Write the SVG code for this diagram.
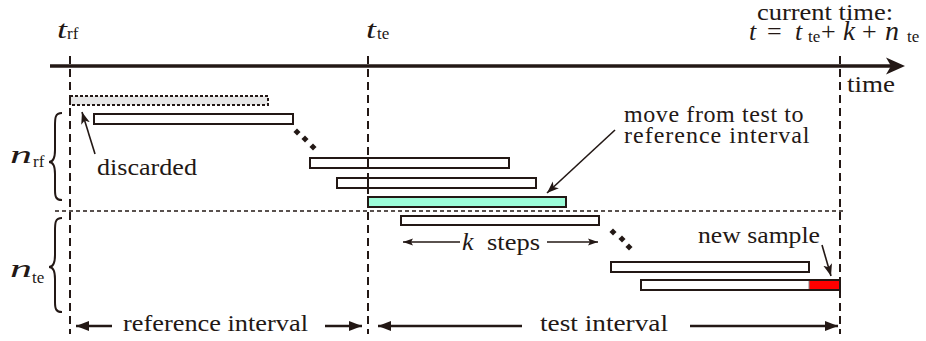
<svg xmlns="http://www.w3.org/2000/svg" width="926" height="341" viewBox="0 0 926 341" font-family="Liberation Serif, Times New Roman, serif">
<style>
text,tspan{font-family:'Liberation Serif','Times New Roman',serif}
.t{font-size:24px;font-style:normal;fill:#231815}
.m{font-style:italic;font-size:26px;fill:#231815}
.s{font-style:normal;font-size:17px;fill:#231815}
.o{font-style:normal;font-size:26px;fill:#231815}
.bar{fill:#fff;stroke:#231815;stroke-width:2}
.dash{stroke:#231815;stroke-width:2;stroke-dasharray:8 5;fill:none}
.ln{stroke:#231815;fill:none}
.dot{fill:#231815}
</style>
<defs>
<marker id="big" markerUnits="userSpaceOnUse" markerWidth="14" markerHeight="12" viewBox="0 0 14 12" refX="13" refY="6" orient="auto">
<path d="M0,1 L13,6 L0,11 Z" fill="#231815"/>
</marker>
<marker id="small" markerUnits="userSpaceOnUse" markerWidth="11" markerHeight="8" viewBox="0 0 11 8" refX="10" refY="4" orient="auto">
<path d="M0,0.5 L10,4 L0,7.5 L2,4 Z" fill="#231815"/>
</marker>
<marker id="lead" markerUnits="userSpaceOnUse" markerWidth="13" markerHeight="10" viewBox="0 0 13 10" refX="12" refY="5" orient="auto">
<path d="M0,0.5 L12,5 L0,9.5 L3,5 Z" fill="#231815"/>
</marker>
</defs>

<g id="axis">
<line class="ln" x1="50" y1="66" x2="892" y2="66" stroke-width="3.5"/>
<path d="M905,66 L886,57.5 L891,66 L886,74.5 Z" fill="#231815"/>
<text class="t" x="847" y="92" textLength="48" lengthAdjust="spacingAndGlyphs">time</text>
</g>

<g id="separator">
<line class="ln" x1="55" y1="211" x2="843" y2="211" stroke-width="1.6" stroke-dasharray="4 3"/>
</g>

<g id="bars-reference">
<rect id="bar-discarded" x="70" y="96" width="198" height="9" fill="#e6e6e6" stroke="#231815" stroke-width="2" stroke-dasharray="3 2"/>
<rect id="bar-1" class="bar" x="94" y="114" width="199" height="10"/>
<g id="dots-1">
<rect class="dot" x="294.5" y="129.5" width="5" height="5" transform="rotate(45 297 132)"/>
<rect class="dot" x="302.5" y="136.5" width="5" height="5" transform="rotate(45 305 139)"/>
<rect class="dot" x="310.5" y="144.5" width="5" height="5" transform="rotate(45 313 147)"/>
</g>
<g id="bar-2"><rect class="bar" x="310" y="158" width="199" height="10"/><line class="ln" x1="368" y1="158" x2="368" y2="168" stroke-width="2"/></g>
<g id="bar-3"><rect class="bar" x="337" y="178" width="199" height="10"/><line class="ln" x1="368" y1="178" x2="368" y2="188" stroke-width="2"/></g>
<rect id="bar-moved" x="368" y="197" width="198" height="10" fill="#9cfcd8" stroke="#231815" stroke-width="2"/>
</g>

<g id="bars-test">
<rect id="bar-4" class="bar" x="401" y="216" width="198" height="9"/>
<g id="dots-2">
<rect class="dot" x="610.5" y="229.5" width="5" height="5" transform="rotate(45 613 232)"/>
<rect class="dot" x="619.5" y="236.5" width="5" height="5" transform="rotate(45 622 239)"/>
<rect class="dot" x="626.5" y="244.5" width="5" height="5" transform="rotate(45 629 247)"/>
</g>
<rect id="bar-5" class="bar" x="611" y="262" width="198" height="10"/>
<g id="bar-6">
<rect x="641" y="280" width="199" height="10" fill="#fff"/>
<rect x="809" y="280" width="31" height="10" fill="#ff0000"/>
<rect x="641" y="280" width="199" height="10" fill="none" stroke="#231815" stroke-width="2"/>
<line x1="809" y1="281" x2="809" y2="289" stroke="#888" stroke-width="1"/>
</g>
</g>

<g id="labels">
<g id="label-trf"><text class="m" x="57" y="38" textLength="10" lengthAdjust="spacingAndGlyphs">t</text><text class="s" x="67" y="39">rf</text></g>
<g id="label-tte"><text class="m" x="366" y="38" textLength="10" lengthAdjust="spacingAndGlyphs">t</text><text class="s" x="377" y="39">te</text></g>
<text id="label-current-a" class="t" x="757" y="20" font-size="20" textLength="136" lengthAdjust="spacingAndGlyphs">current time:</text>
<text id="label-current-b" class="m"><tspan x="749" y="40">t</tspan><tspan class="o" x="767" y="40">=</tspan><tspan x="795" y="40">t</tspan><tspan class="s" x="808" y="42">te</tspan><tspan class="o" x="821" y="40">+</tspan><tspan x="843" y="40" font-size="27">k</tspan><tspan class="o" x="862" y="40">+</tspan><tspan x="885" y="40" font-size="28">n</tspan><tspan class="s" x="907" y="42">te</tspan></text>
<g id="label-nrf"><text class="m" x="10" y="163" font-size="27" textLength="22" lengthAdjust="spacingAndGlyphs">n</text><text class="s" x="33" y="167">rf</text></g>
<g id="label-nte"><text class="m" x="10" y="277" font-size="27" textLength="22" lengthAdjust="spacingAndGlyphs">n</text><text class="s" x="32" y="283">te</text></g>
<text id="label-discarded" class="t" x="97" y="175" textLength="100" lengthAdjust="spacingAndGlyphs">discarded</text>
<text id="label-move" class="t"><tspan x="624" y="122" letter-spacing="0.6">move from test to</tspan><tspan x="624" y="143" letter-spacing="1">reference interval</tspan></text>
<g id="label-k"><text class="m" x="462" y="250" font-size="27">k</text><text class="t" x="487" y="250" textLength="53" lengthAdjust="spacingAndGlyphs">steps</text></g>
<text id="label-new" class="t" x="698" y="243" textLength="122" lengthAdjust="spacingAndGlyphs">new sample</text>
<text id="label-ref" class="t" x="123" y="331" textLength="185" lengthAdjust="spacingAndGlyphs">reference interval</text>
<text id="label-test" class="t" x="540" y="331" textLength="128" lengthAdjust="spacingAndGlyphs">test interval</text>
</g>

<g id="braces" class="ln" stroke-width="2">
<path d="M62,113 C55,113 55,118 55,126 L55,150 C55,158 53,162 49,162 C53,162 55,166 55,174 L55,190 C55,197 56,200 62,200"/>
<path d="M62,218 C55,218 55,223 55,231 L55,255 C55,263 53,267 49,267 C53,267 55,271 55,279 L55,302 C55,309 56,312 62,312"/>
</g>

<g id="connectors">
<line class="dash" x1="70" y1="56" x2="70" y2="334"/>
<line class="dash" x1="368" y1="56" x2="368" y2="334"/>
<line class="dash" x1="840" y1="56" x2="840" y2="334"/>
<line class="ln" x1="95" y1="154" x2="82" y2="112" stroke-width="1.6" marker-end="url(#lead)"/>
<line class="ln" x1="615" y1="130" x2="547" y2="193" stroke-width="1.6" marker-end="url(#lead)"/>
<line class="ln" x1="822" y1="245" x2="831" y2="276" stroke-width="1.6" marker-end="url(#lead)"/>
<line class="ln" x1="460" y1="242" x2="403" y2="242" stroke-width="1.5" marker-end="url(#small)"/>
<line class="ln" x1="547" y1="242" x2="598" y2="242" stroke-width="1.5" marker-end="url(#small)"/>
<line class="ln" x1="112" y1="326" x2="76" y2="326" stroke-width="2.5" marker-end="url(#big)"/>
<line class="ln" x1="325" y1="326" x2="362" y2="326" stroke-width="2.5" marker-end="url(#big)"/>
<line class="ln" x1="522" y1="326" x2="378" y2="326" stroke-width="2.5" marker-end="url(#big)"/>
<line class="ln" x1="690" y1="326" x2="838" y2="326" stroke-width="2.5" marker-end="url(#big)"/>
</g>
</svg>
